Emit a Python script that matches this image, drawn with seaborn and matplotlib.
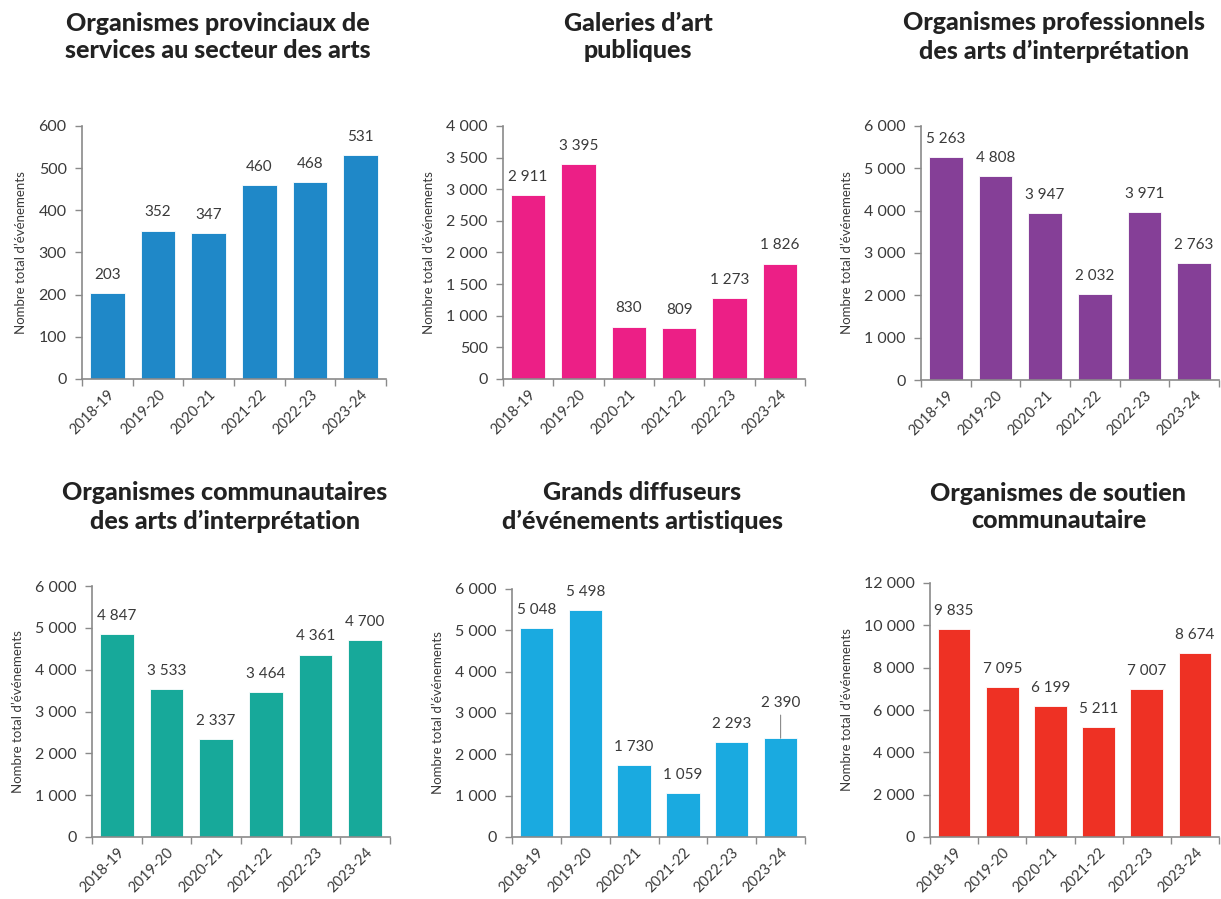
import matplotlib
matplotlib.use("Agg")
import matplotlib.pyplot as plt
import seaborn as sns
import pandas as pd
import numpy as np

years = ['2018-19', '2019-20', '2020-21', '2021-22', '2022-23', '2023-24']

titles = [
    "Organismes provinciaux de\nservices au secteur des arts",
    "Galeries d\u2019art\npubliques",
    "Organismes professionnels\ndes arts d\u2019interprétation",
    "Organismes communautaires\ndes arts d\u2019interprétation",
    "Grands diffuseurs\nd\u2019événements artistiques",
    "Organismes de soutien\ncommunautaire",
]

v_provinciaux = [203, 352, 347, 460, 468, 531]
v_galeries = [2911, 3395, 830, 809, 1273, 1826]
v_professionnels = [5263, 4808, 3947, 2032, 3971, 2763]
v_communautaires = [4847, 3533, 2337, 3464, 4361, 4700]
v_diffuseurs = [5048, 5498, 1730, 1059, 2293, 2390]
v_soutien = [9835, 7095, 6199, 5211, 7007, 8674]

series = [v_provinciaux, v_galeries, v_professionnels,
          v_communautaires, v_diffuseurs, v_soutien]
colors = ['#1F88C8', '#EC1F86', '#853F97', '#17A99A', '#1AAAE0', '#EE3124']
ymax = [600, 4000, 6000, 6000, 6000, 12000]
ystep = [100, 500, 1000, 1000, 1000, 2000]

ylabel = "Nombre total d\u2019événements"

sns.set_theme(style="white")
plt.rcParams['font.family'] = ['Lato', 'DejaVu Sans']
TXT = '#3a3a3a'
SPINE = '#8a8a8a'

W, H = 1221, 899
fig = plt.figure(figsize=(W / 100, H / 100), dpi=100)

# axes boxes in pixels: left, top, right, bottom
boxes = [
    (82, 126, 386, 379),
    (503, 126, 805, 379),
    (921, 126, 1219, 380),
    (92, 586, 390, 837),
    (512, 589, 805, 837),
    (930, 583, 1219, 837),
]
title_y = [37, 37, 37, 507, 507, 507]


def fmt(v):
    return f"{int(v):,}".replace(",", " ")


for i, (vals, col, box) in enumerate(zip(series, colors, boxes)):
    l, t, r, b = box
    ax = fig.add_axes([l / W, 1 - b / H, (r - l) / W, (b - t) / H])
    df = pd.DataFrame({'year': years, 'val': vals})
    sns.barplot(data=df, x='year', y='val', color=col, ax=ax, width=0.68,
                saturation=1, edgecolor='white', linewidth=0.6)
    ax.set_xlim(-0.5, 5.5)
    ax.set_ylim(0, ymax[i])
    ticks = np.arange(0, ymax[i] + 1, ystep[i])
    ax.set_yticks(ticks)
    ax.set_yticklabels([fmt(v) for v in ticks], fontsize=11.5, color=TXT)
    ax.set_xticks(range(6))
    ax.set_xticklabels(years, rotation=45, ha='right', rotation_mode='anchor',
                       fontsize=10.5, color=TXT)
    ax.set_xticks(np.arange(-0.5, 6, 1), minor=True)
    ax.tick_params(axis='x', which='major', length=0, pad=6)
    ax.tick_params(axis='x', which='minor', length=5, color=SPINE, width=1, bottom=True)
    ax.tick_params(axis='y', which='major', length=5, color=SPINE, width=1, left=True, pad=6)
    ax.set_xlabel('')
    ax.set_ylabel(ylabel, fontsize=9.5, color=TXT, labelpad=8)
    for s in ['top', 'right']:
        ax.spines[s].set_visible(False)
    for s in ['left', 'bottom']:
        ax.spines[s].set_color(SPINE)
        ax.spines[s].set_linewidth(1.2)

    for j, v in enumerate(vals):
        if i == 4 and j == 5:
            ax.annotate(fmt(v), xy=(j, v), xytext=(0, 20), textcoords='offset points',
                        ha='center', va='bottom', fontsize=11, color=TXT,
                        arrowprops=dict(arrowstyle='-', color=SPINE, lw=0.8,
                                        shrinkA=1, shrinkB=0))
        else:
            ax.annotate(fmt(v), xy=(j, v), xytext=(0, 8), textcoords='offset points',
                        ha='center', va='bottom', fontsize=11, color=TXT)

    cx = (l + r) / 2 - 16
    fig.text(cx / W, 1 - title_y[i] / H, titles[i], ha='center', va='center',
             fontsize=18, fontweight='black', color='#222222', linespacing=1.25)

fig.savefig('out.png', dpi=100, facecolor='white')
